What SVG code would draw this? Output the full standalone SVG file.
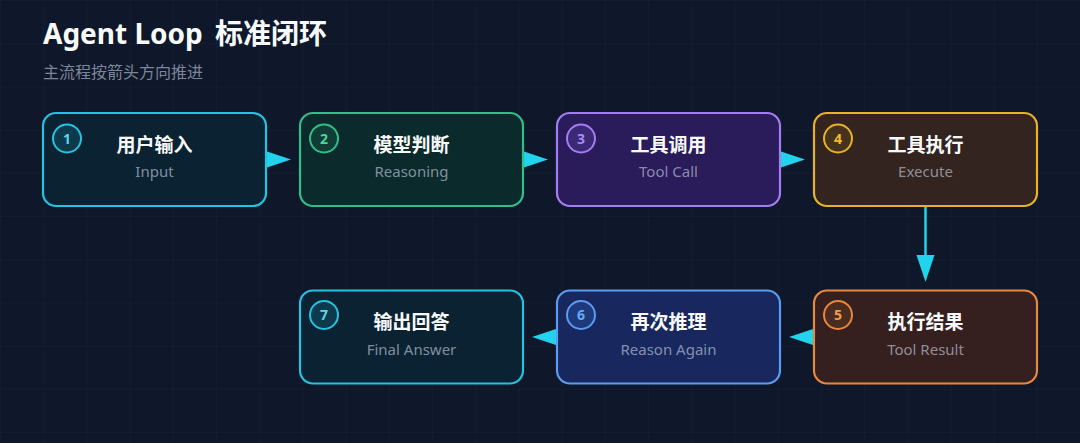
<svg xmlns="http://www.w3.org/2000/svg" width="1080" height="443" viewBox="0 0 1080 443">
  <defs>
    <pattern id="grid" x="0" y="0" width="43.2" height="43.2" patternUnits="userSpaceOnUse">
      <path d="M 43.2 0 L 0 0 0 43.2" fill="none" stroke="#1e293b" stroke-opacity="0.55" stroke-width="1"/>
    </pattern>
    <style>
      .title { font-family: "Noto Sans", "Noto Sans CJK SC", sans-serif; font-size: 28px; font-weight: 700; fill: #f8fafc; }
      .subtitle { font-family: "Noto Sans", "Noto Sans CJK SC", sans-serif; font-size: 16px; fill: #7c8698; }
      .box { stroke-width: 2.2; }
      .badge { stroke-width: 2; }
      .num { font-family: "Noto Sans", "Noto Sans CJK SC", sans-serif; font-size: 14px; font-weight: 700; text-anchor: middle; }
      .ntitle { font-family: "Noto Sans", "Noto Sans CJK SC", sans-serif; font-size: 19px; font-weight: 700; fill: #f8fafc; text-anchor: middle; }
      .nsub { font-family: "Noto Sans", "Noto Sans CJK SC", sans-serif; font-size: 15px; fill: #cbd5e1; fill-opacity: 0.62; text-anchor: middle; }
      .arrow { fill: #22d3ee; }
      .line { stroke: #22d3ee; stroke-width: 2.5; fill: none; }
    </style>
  </defs>
  <rect x="0" y="0" width="1080" height="443" fill="#0f172a"/>
  <rect x="0" y="0" width="1080" height="443" fill="url(#grid)"/>

  <text class="title" x="43" y="44">Agent Loop <tspan dx="5">标准闭环</tspan></text>
  <text class="subtitle" x="43" y="78">主流程按箭头方向推进</text>

  <g id="connectors">
    <polygon class="arrow" points="264,150.5 291,159.5 264,168.5"/>
    <polygon class="arrow" points="521,150.5 548,159.5 521,168.5"/>
    <polygon class="arrow" points="778,150.5 805,159.5 778,168.5"/>
    <line class="line" x1="925.5" y1="206" x2="925.5" y2="258"/>
    <polygon class="arrow" points="916.5,255 934.5,255 925.5,282"/>
    <polygon class="arrow" points="816,328 789,337 816,346"/>
    <polygon class="arrow" points="559,328 532,337 559,346"/>
  </g>

  <g id="node1">
    <rect class="box" x="43" y="113" width="223" height="93" rx="13" fill="#0b2233" stroke="#22c4e0"/>
    <circle class="badge" cx="67" cy="138.5" r="14" fill="#0e3a4d" stroke="#22c4e0"/>
    <text class="num" x="67" y="143.5" fill="#5fd6ec">1</text>
    <text class="ntitle" x="154.5" y="151.5">用户输入</text>
    <text class="nsub" x="154.5" y="177">Input</text>
  </g>

  <g id="node2">
    <rect class="box" x="300" y="113" width="223" height="93" rx="13" fill="#0b2a2b" stroke="#2fbf8a"/>
    <circle class="badge" cx="324" cy="138.5" r="14" fill="#0f3d35" stroke="#2fbf8a"/>
    <text class="num" x="324" y="143.5" fill="#4fd6a0">2</text>
    <text class="ntitle" x="411.5" y="151.5">模型判断</text>
    <text class="nsub" x="411.5" y="177">Reasoning</text>
  </g>

  <g id="node3">
    <rect class="box" x="557" y="113" width="223" height="93" rx="13" fill="#2a1b5a" stroke="#a27ef0"/>
    <circle class="badge" cx="581" cy="138.5" r="14" fill="#3a2a76" stroke="#a27ef0"/>
    <text class="num" x="581" y="143.5" fill="#a78bfa">3</text>
    <text class="ntitle" x="668.5" y="151.5">工具调用</text>
    <text class="nsub" x="668.5" y="177">Tool Call</text>
  </g>

  <g id="node4">
    <rect class="box" x="814" y="113" width="223" height="93" rx="13" fill="#33241f" stroke="#e7b225"/>
    <circle class="badge" cx="838" cy="138.5" r="14" fill="#46331e" stroke="#e7b225"/>
    <text class="num" x="838" y="143.5" fill="#f2bd2c">4</text>
    <text class="ntitle" x="925.5" y="151.5">工具执行</text>
    <text class="nsub" x="925.5" y="177">Execute</text>
  </g>

  <g id="node5">
    <rect class="box" x="814" y="290.5" width="223" height="93" rx="13" fill="#35201f" stroke="#e8883a"/>
    <circle class="badge" cx="838" cy="315" r="14" fill="#4a2c20" stroke="#e8883a"/>
    <text class="num" x="838" y="320" fill="#f59a4a">5</text>
    <text class="ntitle" x="925.5" y="329">执行结果</text>
    <text class="nsub" x="925.5" y="354.5">Tool Result</text>
  </g>

  <g id="node6">
    <rect class="box" x="557" y="290.5" width="223" height="93" rx="13" fill="#18285e" stroke="#5b9cf0"/>
    <circle class="badge" cx="581" cy="315" r="14" fill="#1e3a7a" stroke="#5b9cf0"/>
    <text class="num" x="581" y="320" fill="#6aa8f6">6</text>
    <text class="ntitle" x="668.5" y="329">再次推理</text>
    <text class="nsub" x="668.5" y="354.5">Reason Again</text>
  </g>

  <g id="node7">
    <rect class="box" x="300" y="290.5" width="223" height="93" rx="13" fill="#0b2233" stroke="#22c4e0"/>
    <circle class="badge" cx="324" cy="315" r="14" fill="#0e3a4d" stroke="#22c4e0"/>
    <text class="num" x="324" y="320" fill="#5fd6ec">7</text>
    <text class="ntitle" x="411.5" y="329">输出回答</text>
    <text class="nsub" x="411.5" y="354.5">Final Answer</text>
  </g>
</svg>
